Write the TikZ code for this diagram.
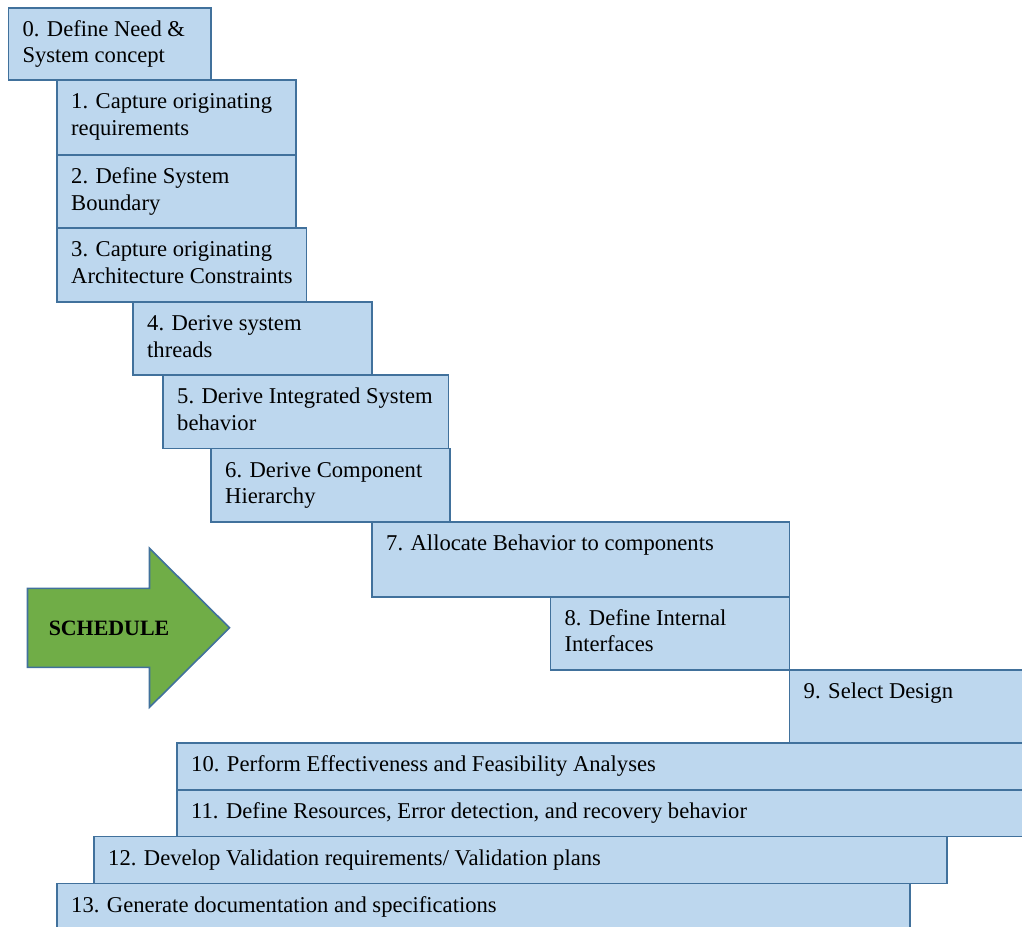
\documentclass[tikz,border=0pt]{standalone}
\usepackage{fontspec}
\setmainfont{Liberation Serif}
\usetikzlibrary{calc}
\definecolor{boxfill}{HTML}{BDD7EE}
\definecolor{boxline}{HTML}{41719C}
\definecolor{arrowfill}{HTML}{70AD47}
\tikzset{
  stepbox/.style={draw=boxline, fill=boxfill, line width=1.6pt, inner sep=0pt,
    outer sep=0pt, anchor=north west},
  steplabel/.style={anchor=base west, inner sep=0pt,
    font=\fontsize{22.6}{26.7}\selectfont},
}
% place a step box from (x1,y1) to (x2,y2) with its label (top-aligned lines)
\newcommand\placestep[6]{%
  \node[stepbox, minimum width=#4pt-#2pt, minimum height=#5pt-#3pt] (#1) at (#2,#3) {};
  \node[steplabel] (#1t) at ($(#1.north west)+(14,28.5)$)
    {\begin{tabular}[t]{@{}l@{}}#6\end{tabular}};
}
\begin{document}
\begin{tikzpicture}[x=1pt, y=-1pt]
  \useasboundingbox (0,0) rectangle (1022,926);
  \clip (0,0) rectangle (1022,926);
  \placestep{s0}{8.3}{7.7}{211}{80}{0. Define Need \&\\System concept}
  \placestep{s1}{57}{80}{296}{155}{1. Capture originating\\requirements}
  \placestep{s2}{57}{155}{296}{228}{2. Define System\\Boundary}
  \placestep{s3}{57}{228}{306.5}{302}{3. Capture originating\\Architecture Constraints}
  \placestep{s4}{133}{302}{372}{375}{4. Derive system\\threads}
  \placestep{s5}{163}{375}{448.5}{448.5}{5. Derive Integrated System\\behavior}
  \placestep{s6}{211}{448.5}{450}{522}{6. Derive Component\\Hierarchy}
  \placestep{s7}{372}{522}{789.5}{596.7}{7. Allocate Behavior to components}
  \placestep{s8}{550.3}{596.7}{789.5}{670}{8. Define Internal\\Interfaces}
  \placestep{s9}{789.5}{670}{1030}{742.7}{9. Select Design}
  \placestep{s10}{177}{742.7}{1030}{790}{10. Perform Effectiveness and Feasibility Analyses}
  \placestep{s11}{177}{790}{1030}{836.5}{11. Define Resources, Error detection, and recovery behavior}
  \placestep{s12}{94}{836.5}{947}{883.5}{12. Develop Validation requirements/ Validation plans}
  \placestep{s13}{57}{883.5}{910}{940}{13. Generate documentation and specifications}
  % schedule arrow
  \draw[draw=boxline, fill=arrowfill, line width=1.6pt, line join=miter]
    (27.5,588.3) -- (149.5,588.3) -- (149.5,548.3) -- (229.5,627.8)
    -- (149.5,707.3) -- (149.5,667.3) -- (27.5,667.3) -- cycle;
  \node[anchor=base, inner sep=0pt, font=\fontsize{21.9}{24}\selectfont\bfseries]
    (sched) at (109,635.7) {SCHEDULE};
\end{tikzpicture}
\end{document}
